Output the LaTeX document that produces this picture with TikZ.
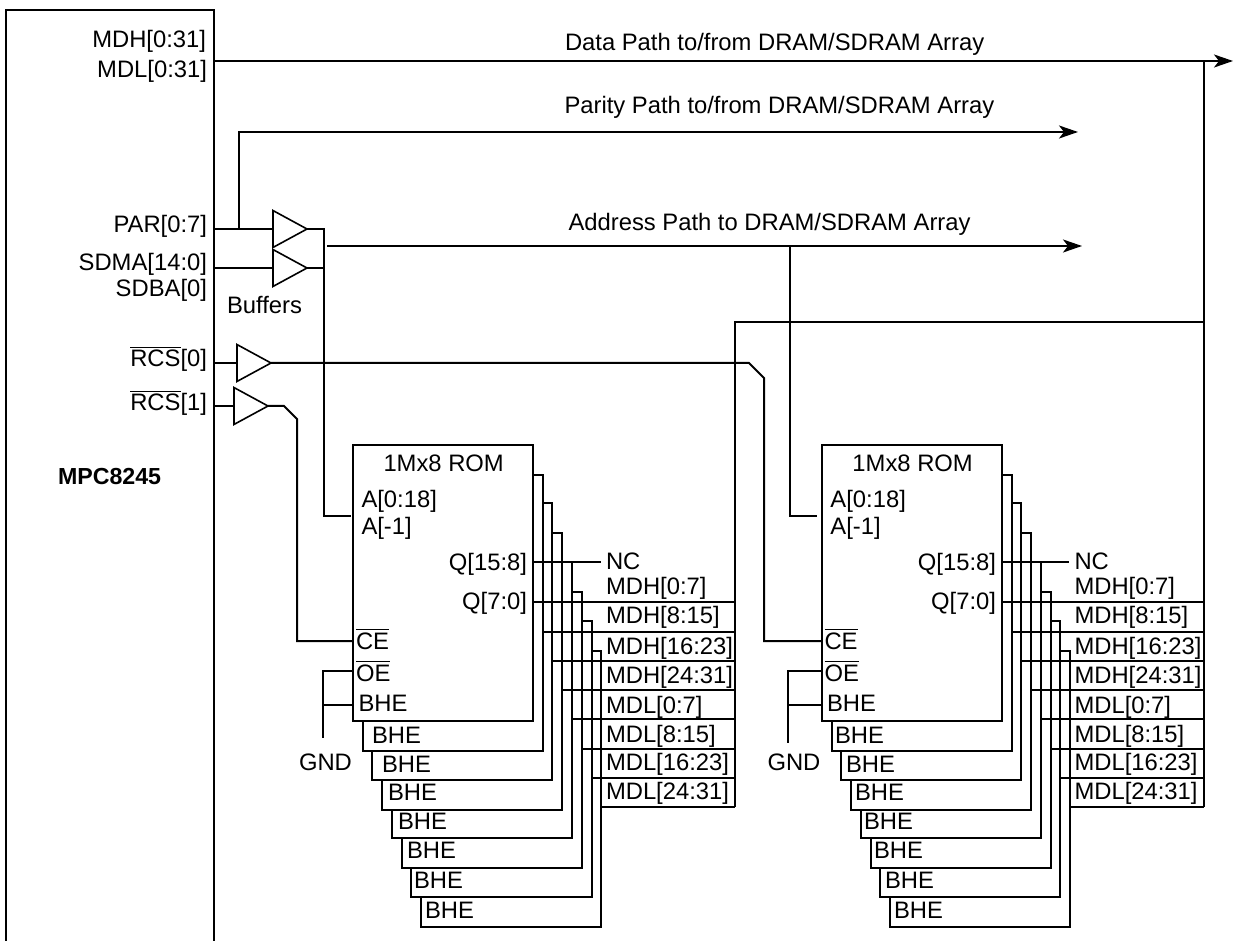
\documentclass[tikz,border=0pt]{standalone}
\usepackage{fontspec}
\setmainfont{Liberation Sans}
\usetikzlibrary{arrows.meta, shapes.geometric, positioning}
\newcommand{\barred}[1]{\ensuremath{\overline{\mbox{#1}}}}
\tikzset{
  wire/.style={line width=1pt},
  busarr/.style={wire, -{Stealth[length=9.5pt, width=6.5pt, inset=2.5pt]}},
  chipbox/.style={rectangle, draw, fill=white, line width=1pt,
                  anchor=north west, inner sep=0pt, outer sep=0pt},
  buffer/.style={isosceles triangle, isosceles triangle apex angle=57,
                 draw, fill=white, line width=0.8pt, inner sep=0pt,
                 outer sep=0pt, minimum height=17pt, anchor=apex},
  lbl/.style={inner sep=0pt, outer sep=0pt, anchor=base west,
              font=\fontsize{11.9}{14}\selectfont},
  lblr/.style={lbl, anchor=base east}
}
\begin{document}
\begin{tikzpicture}[x=0.5pt, y=-0.5pt]
  \useasboundingbox (0,0) rectangle (1233,941);

  % MPC8245 block
  \node[chipbox, minimum width=104pt, minimum height=467pt] (mpc) at (6,10) {};
  \node[lbl, font=\bfseries\fontsize{11.6}{14}\selectfont] (mpcname) at (58,485) {MPC8245};
  \node[lblr] (mdh) at (206,48) {MDH[0:31]};
  \node[lblr] (mdl) at (207,78) {MDL[0:31]};
  \node[lblr] (par) at (207,233) {PAR[0:7]};
  \node[lblr] (sdma) at (207,271) {SDMA[14:0]};
  \node[lblr] (sdba) at (207,297) {SDBA[0]};
  \node[lblr] (rcs0) at (207,367) {\barred{RCS}[0]};
  \node[lblr] (rcs1) at (207,411) {\barred{RCS}[1]};

  % buffers
  \node[buffer] (bufpar) at (307,229) {};
  \node[buffer] (bufaddr) at (307,268) {};
  \node[buffer] (bufrcs0) at (271,363) {};
  \node[buffer] (bufrcs1) at (268,406) {};
  \node[lbl] (buflbl) at (227,314) {Buffers};

  % path labels
  \node[lbl] (datalbl) at (565,51) {Data Path to/from DRAM/SDRAM Array};
  \node[lbl] (parlbl) at (564.5,114) {Parity Path to/from DRAM/SDRAM Array};
  \node[lbl] (addrlbl) at (568.5,231) {Address Path to DRAM/SDRAM Array};

  % ROM stacks, back to front
  \foreach \n/\dx in {A/0, B/468.5}{
    \foreach \i/\lx/\ty/\rx/\by in {7/421/650.7/601/926.7, 6/411/621/591.7/896.7,
        5/402/592/582/867.7, 4/392/562/572/838, 3/382/532.7/562/809.7,
        2/372/503/552/780, 1/363/474.7/543/750.7, 0/353/445/533/721}{
      \node[chipbox, minimum width={(\rx-\lx)*0.5pt}, minimum height={(\by-\ty)*0.5pt}]
        (rom\n\i) at (\lx+\dx,\ty) {};
    }
    \node[lbl] (title\n) at (383.5+\dx*1.001,472) {1Mx8 ROM};
    \node[lbl] (ahi\n) at (361.5+\dx*1.001,508) {A[0:18]};
    \node[lbl] (alo\n) at (361.5+\dx*1.001,534) {A[-1]};
    \node[lblr] (qhi\n) at (527+\dx*1.001,570) {Q[15:8]};
    \node[lblr] (qlo\n) at (527+\dx*1.001,610) {Q[7:0]};
    \node[lbl] (nc\n) at (606+\dx,569) {NC};
    \node[lbl] (ce\n) at (356+\dx,649) {\barred{CE}};
    \node[lbl] (oe\n) at (356+\dx,681) {\barred{OE}};
    \node[lbl] (bhe\n) at (358.5+\dx,711) {BHE};
    \node[lbl] (gnd\n) at (299+\dx,770) {GND};
    % output labels
    \foreach \j/\txt/\yy in {0/MDH[0:7]/594, 1/MDH[8:15]/623, 2/MDH[16:23]/654,
        3/MDH[24:31]/683, 4/MDL[0:7]/713, 5/MDL[8:15]/742, 6/MDL[16:23]/770,
        7/MDL[24:31]/799}{
      \node[lbl] (out\n\j) at (606+\dx,\yy) {\txt};
    }
  }
  \foreach \i/\xa/\xb/\yy in {1/372/835/743, 2/382/846/772, 3/388/855/800, 4/398/864/829,
      5/407/874/858, 6/414/885/888, 7/425/894/918}{
    \node[lbl] (bheA\i) at (\xa,\yy) {BHE};
    \node[lbl] (bheB\i) at (\xb,\yy) {BHE};
  }

  % named points on the wires
  \coordinate (dataend) at (1233,61);
  \coordinate (parend) at (1078,132);
  \coordinate (partap) at (239,229);
  \coordinate (addrjoin) at (324,229);
  \coordinate (addrstart) at (327,246);
  \coordinate (addrend) at (1082,246);
  \coordinate (addrtap) at (790,246);
  \coordinate (addrA) at (351,516);
  \coordinate (addrB) at (817,516);
  \coordinate (kinkA) at (284,406);
  \coordinate (kinkB) at (749,363);
  \coordinate (ceA) at (353,641);
  \coordinate (ceB) at (822,641);
  \coordinate (busAtop) at (735,322);
  \coordinate (busAbot) at (735,807);
  \coordinate (busBtop) at (1203.5,61);
  \coordinate (busBbot) at (1203.5,807);

  % left side wires
  \draw[busarr] (mpc.east |- dataend) -- (dataend);
  \draw[busarr] (partap) |- (parend);
  \draw[wire] (mpc.east |- bufpar.lower side) -- (bufpar.lower side);
  \draw[wire] (mpc.east |- bufaddr.lower side) -- (bufaddr.lower side);
  \draw[wire] (mpc.east |- bufrcs0.lower side) -- (bufrcs0.lower side);
  \draw[wire] (mpc.east |- bufrcs1.lower side) -- (bufrcs1.lower side);
  \draw[wire] (bufpar.apex) -- (addrjoin) |- (addrA);
  \draw[wire] (bufaddr.apex) -- (bufaddr.apex -| addrjoin);
  \draw[busarr] (addrstart) -- (addrend);
  \draw[wire] (addrtap) |- (addrB);

  % chip enables
  \draw[wire] (bufrcs1.apex) -- (kinkA) -- ++(13,13) |- (ceA);
  \draw[wire] (bufrcs0.apex) -- (kinkB) -- ++(15,15) |- (ceB);

  % data buses
  \draw[wire] (busAbot) -- (busAtop) -- (busAtop -| busBtop);
  \draw[wire] (busBtop) -- (busBbot);

  % ROM outputs and strapped pins
  \foreach \n/\dx/\gx/\gy/\bus in {A/0/323/738/busAtop, B/468.5/788/742.7/busBtop}{
    \coordinate (ncend\n) at (\dx+600.7,562);
    \draw[wire] (rom\n0.east |- ncend\n) -- (ncend\n);
    \foreach \i/\yy in {0/602, 1/631.7, 2/660.7, 3/690, 4/719, 5/749, 6/778, 7/807}{
      \coordinate (tap\n\i) at (0,\yy);
      \draw[wire] (rom\n\i.east |- tap\n\i) -- (\bus |- tap\n\i);
    }
    \coordinate (gndend\n) at (\gx,\gy);
    \draw[wire] (rom\n0.west |- 0,671) -| (gndend\n);
    \draw[wire] (rom\n0.west |- 0,705) -- (gndend\n |- 0,705);
  }
\end{tikzpicture}
\end{document}
